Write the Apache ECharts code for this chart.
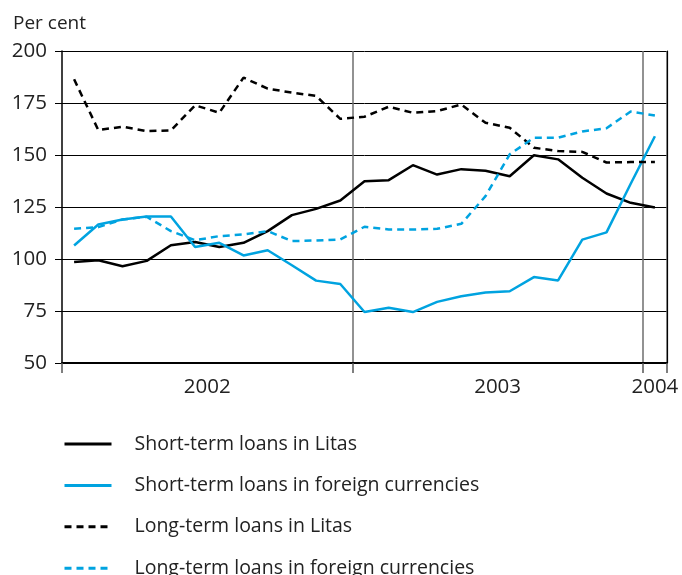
<!DOCTYPE html>
<html>
<head>
<meta charset="utf-8">
<script src="https://cdn.jsdelivr.net/npm/echarts@6/dist/echarts.min.js"></script>
<style>
  html, body { margin: 0; padding: 0; background: #fff; }
  #chart { width: 682px; height: 575px; }
</style>
</head>
<body>
<div id="chart"></div>
<script>
// monthly observations, Jan 2002 .. Jan 2004
const months = [
  "2002-01","2002-02","2002-03","2002-04","2002-05","2002-06",
  "2002-07","2002-08","2002-09","2002-10","2002-11","2002-12",
  "2003-01","2003-02","2003-03","2003-04","2003-05","2003-06",
  "2003-07","2003-08","2003-09","2003-10","2003-11","2003-12",
  "2004-01"
];
const shortLitas = [98.6, 99.4, 96.5, 99.1, 106.6, 108.2, 105.8, 107.8, 113.4, 121.1, 124.1, 128.1,
  137.4, 137.9, 145.1, 140.6, 143.2, 142.4, 139.8, 149.9, 147.9, 139.1, 131.5, 127.0, 124.8];
const shortForeign = [106.5, 116.6, 119.0, 120.4, 120.4, 105.8, 107.8, 101.7, 104.2, 97.0, 89.6, 88.0,
  74.5, 76.6, 74.5, 79.4, 82.1, 83.9, 84.5, 91.3, 89.7, 109.3, 112.8, 136.2, 159.0];
const longLitas = [186.4, 162.0, 163.6, 161.5, 161.8, 173.9, 170.3, 187.2, 181.9, 180.0, 178.4, 167.4,
  168.4, 173.2, 170.3, 171.1, 174.3, 165.5, 163.1, 153.5, 151.9, 151.5, 146.4, 146.6, 146.6];
const longForeign = [114.5, 115.3, 119.0, 120.3, 113.4, 109.0, 111.0, 111.8, 113.4, 108.6, 108.9, 109.4,
  115.5, 114.2, 114.2, 114.5, 116.9, 130.2, 150.3, 158.3, 158.3, 161.3, 162.9, 170.9, 169.0];
const seriesNames = [
  "Short-term loans in Litas",
  "Short-term loans in foreign currencies",
  "Long-term loans in Litas",
  "Long-term loans in foreign currencies"
];

const BLUE = "#00a3e0";
const FONT = "Open Sans";

// year label sits in the middle of that year's months
const years = [];
const yearCentre = {};
months.forEach((m, i) => {
  const y = m.slice(0, 4);
  if (!(y in yearCentre)) { years.push(y); yearCentre[y] = []; }
  yearCentre[y].push(i + 0.5);
});
const yearPos = years.map(y => {
  const a = yearCentre[y];
  return (a[0] + a[a.length - 1]) / 2;
});
const isYearStart = i => months[i] && months[i].slice(5) === "01";

function line(name, data, color, dashed) {
  return {
    name: name,
    type: "line",
    data: data,
    symbol: "none",
    xAxisIndex: 0,
    yAxisIndex: 0,
    lineStyle: { color: color, width: 2.5, type: dashed ? [7, 5] : "solid" },
    itemStyle: { color: color },
    animation: false
  };
}

const chart = echarts.init(document.getElementById("chart"));
chart.setOption({
  animation: false,
  textStyle: { fontFamily: FONT },
  title: {
    text: "Per cent",
    left: 8,
    top: 9,
    textStyle: { fontFamily: FONT, fontSize: 19, fontWeight: "normal", color: "#222" }
  },
  grid: { left: 62, right: 15, top: 51, bottom: 212, containLabel: false },
  legend: {
    orient: "vertical",
    left: 63,
    top: 434,
    height: 300,
    padding: 0,
    itemWidth: 47,
    itemHeight: 20,
    itemGap: 21.4,
    itemStyle: { opacity: 0 },
    lineStyle: { width: 3 },
    data: seriesNames,
    textStyle: { fontFamily: FONT, fontSize: 19.5, color: "#222", padding: [0, 0, 0, 18] }
  },
  xAxis: [
    {
      type: "category",
      data: months,
      boundaryGap: true,
      axisLine: { lineStyle: { color: "#000", width: 2 } },
      axisTick: {
        show: true,
        length: 10,
        interval: (i) => isYearStart(i),
        lineStyle: { color: "#555", width: 1.5 }
      },
      axisLabel: { show: false },
      splitLine: {
        show: true,
        interval: (i) => i > 0 && isYearStart(i),
        lineStyle: { color: "#6e6e6e", width: 1.5 }
      }
    },
    {
      type: "value",
      position: "bottom",
      min: 0,
      max: months.length,
      axisLine: { show: false },
      axisTick: { show: false },
      splitLine: { show: false },
      axisLabel: {
        customValues: yearPos,
        margin: 14,
        fontFamily: FONT,
        fontSize: 20.5,
        color: "#222",
        formatter: (v) => {
          const k = yearPos.findIndex(p => Math.abs(p - v) < 1e-6);
          return k >= 0 ? years[k] : "";
        }
      }
    }
  ],
  yAxis: [
    {
      type: "value",
      min: 50,
      max: 200,
      interval: 25,
      axisLine: { show: true, lineStyle: { color: "#000", width: 1.5 } },
      axisTick: { show: true, length: 7, lineStyle: { color: "#000" } },
      axisLabel: { margin: 15, fontFamily: FONT, fontSize: 20.5, color: "#222" },
      splitLine: { show: true, lineStyle: { color: "#000", width: 1 } }
    },
    {
      type: "value",
      position: "right",
      min: 50,
      max: 200,
      axisLine: { show: true, lineStyle: { color: "#000", width: 1.2 } },
      axisTick: { show: false },
      axisLabel: { show: false },
      splitLine: { show: false }
    }
  ],
  series: [
    line(seriesNames[0], shortLitas, "#000", false),
    line(seriesNames[1], shortForeign, BLUE, false),
    line(seriesNames[2], longLitas, "#000", true),
    line(seriesNames[3], longForeign, BLUE, true)
  ]
});
</script>
</body>
</html>
